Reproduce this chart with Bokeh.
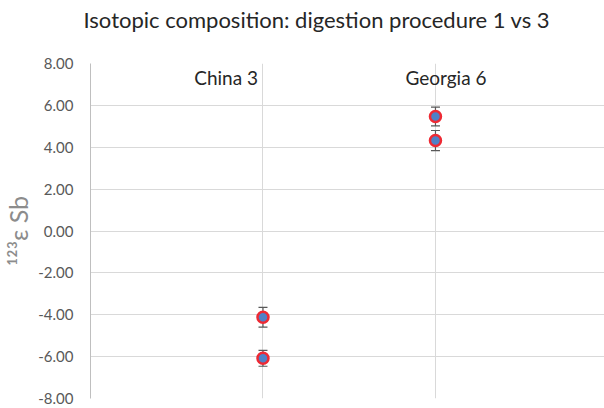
from bokeh.plotting import figure
from bokeh.models import (ColumnDataSource, Range1d, FixedTicker, NumeralTickFormatter,
                          Whisker, TeeHead, Title)
from bokeh.embed import file_html
from bokeh.resources import INLINE
from bokeh.core.properties import value

# ---- data ----
categories = ["China 3", "Georgia 6"]
cat_pos = [1, 1, 2, 2]
eps_values = [-4.12, -6.08, 5.47, 4.32]
eps_errors = [0.47, 0.38, 0.45, 0.48]
y_ticks = [-8, -6, -4, -2, 0, 2, 4, 6, 8]
title_text = "Isotopic composition: digestion procedure 1 vs 3"
y_label = "\u00b9\u00b2\u00b3\u03b5 Sb"

FONT = "Lato"

src = ColumnDataSource(dict(
    x=cat_pos,
    y=eps_values,
    upper=[v + e for v, e in zip(eps_values, eps_errors)],
    lower=[v - e for v, e in zip(eps_values, eps_errors)],
))

p = figure(width=604, height=408, output_backend="svg", toolbar_location=None,
           x_range=Range1d(0, 2.98), y_range=Range1d(-8, 8),
           min_border_left=90, min_border_right=0, min_border_top=63, min_border_bottom=10)
p.outline_line_color = None
p.background_fill_color = "white"
p.border_fill_color = "white"

p.title.text = title_text
p.title.align = "left"
p.title.vertical_align = "top"
p.title.offset = -7
p.title.standoff = 10
p.title.text_font = FONT
p.title.text_font_size = "22px"
p.title.text_font_style = "normal"
p.title.text_color = "#262626"

# blank spacer between the title and the plot area
p.add_layout(Title(text=" ", text_font_size="12px", standoff=8), "above")

p.xaxis.visible = False
p.yaxis.ticker = FixedTicker(ticks=y_ticks)
p.yaxis.formatter = NumeralTickFormatter(format="0.00")
p.yaxis.axis_line_color = "#BFBFBF"
p.yaxis.axis_line_width = 1
p.yaxis.major_tick_line_color = None
p.yaxis.minor_tick_line_color = None
p.yaxis.major_tick_out = 0
p.yaxis.major_tick_in = 0
p.yaxis.minor_tick_out = 0
p.yaxis.major_label_standoff = 17
p.yaxis.major_label_text_font = FONT
p.yaxis.major_label_text_font_size = "15px"
p.yaxis.major_label_text_color = "#595959"
p.yaxis.axis_label = y_label
p.yaxis.axis_label_text_font = FONT
p.yaxis.axis_label_text_font_size = "25px"
p.yaxis.axis_label_text_font_style = "normal"
p.yaxis.axis_label_text_color = "#8C8C8C"
p.yaxis.axis_label_standoff = 2

p.ygrid.ticker = FixedTicker(ticks=y_ticks)
p.xgrid.ticker = FixedTicker(ticks=[1, 2])
p.grid.grid_line_color = "#D9D9D9"
p.grid.grid_line_width = 1

w = Whisker(source=src, base="x", upper="upper", lower="lower", dimension="height",
            line_color="#595959", line_width=1.2,
            upper_head=TeeHead(size=9, line_color="#595959", line_width=1.2),
            lower_head=TeeHead(size=9, line_color="#595959", line_width=1.2))
p.add_layout(w)

p.scatter("x", "y", source=src, size=11, fill_color="#4F81C7",
          line_color="#EE2A34", line_width=2.5)

# category labels at the top of the plot
p.text(x=[1], y=[7.35], text=[categories[0]], x_offset=-5, text_align="right",
       text_baseline="middle", text_font=value(FONT), text_font_size="19px",
       text_color="#262626")
p.text(x=[2], y=[7.35], text=[categories[1]], x_offset=-30, text_align="left",
       text_baseline="middle", text_font=value(FONT), text_font_size="19px",
       text_color="#262626")

open("out.html", "w").write(file_html(p, INLINE))
